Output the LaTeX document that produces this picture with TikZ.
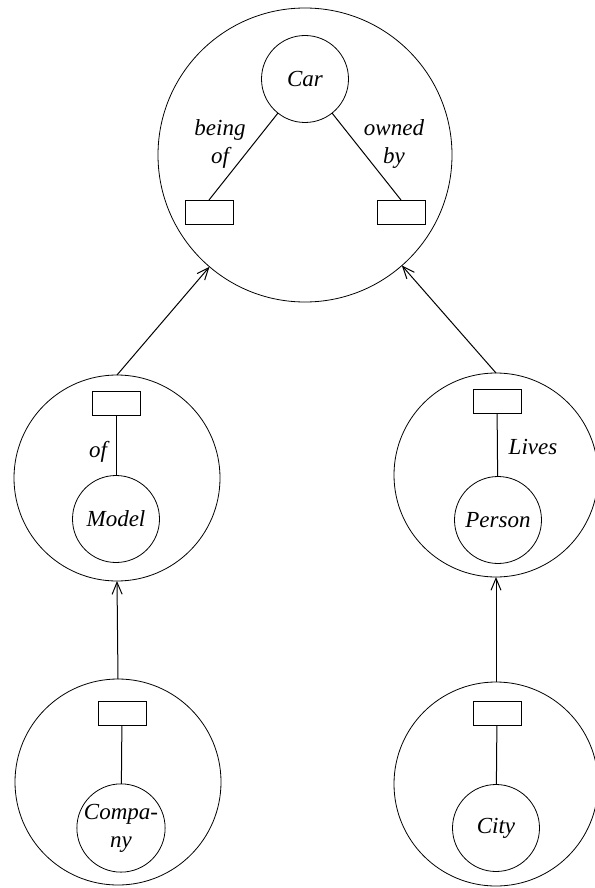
\documentclass[tikz,border=0pt]{standalone}
\usepackage{fontspec}
\setmainfont{Liberation Serif}
\usetikzlibrary{arrows.meta}

\begin{document}
\begin{tikzpicture}[
    x=0.5pt, y=-0.5pt,
    every node/.style={inner sep=0pt, outer sep=0pt},
    context/.style={circle, draw, minimum size=103pt},
    concept/.style={circle, draw, minimum size=43.5pt, font=\fontsize{11.5}{14}\selectfont\itshape, align=center},
    slot/.style={rectangle, draw, minimum width=24pt, minimum height=12pt},
    rel/.style={font=\fontsize{11.5}{14}\selectfont\itshape, align=center},
    link/.style={line width=0.5pt},
    arrow/.style={line width=0.5pt, -{Straight Barb[length=6pt,width=5pt]}}
]
    \useasboundingbox (0,0) rectangle (594,888);

    % Top context: the car and its two slots
    \node [context, minimum size=147pt] (carctx) at (305,155) {};
    \node [concept] (car) at (305,79) {Car};
    \node [slot] (beingslot) at (209,212) {};
    \node [slot] (ownedslot) at (401,212) {};
    \node [rel] (beingof) at (220,144) {being\\of};
    \node [rel] (ownedby) at (394,144) {owned\\by};

    % Middle contexts
    \node [context] (modelctx) at (117,478) {};
    \node [slot] (modelslot) at (116,403) {};
    \node [concept] (model) at (116,519) {Model};
    \node [rel] (of) at (98,452) {of};

    \node [context, minimum size=102pt] (personctx) at (496,475) {};
    \node [slot] (personslot) at (497,401) {};
    \node [concept] (person) at (498,520) {Person};
    \node [rel] (lives) at (533,447) {Lives};

    % Bottom contexts
    \node [context] (companyctx) at (118,782) {};
    \node [slot] (companyslot) at (122,713) {};
    \node [concept] (company) at (121,828) {Compa-\\ny};

    \node [context, minimum size=102pt] (cityctx) at (496,784) {};
    \node [slot] (cityslot) at (497,713) {};
    \node [concept] (city) at (496,828) {City};

    % Relations inside each context
    \draw [link] (car) -- (beingslot.north);
    \draw [link] (car) -- (ownedslot.north);
    \draw [link] (modelslot) -- (model);
    \draw [link] (personslot) -- (person);
    \draw [link] (companyslot) -- (company);
    \draw [link] (cityslot) -- (city);

    % Arrows between contexts
    \draw [arrow] (modelctx.north) -- (carctx);
    \draw [arrow] (personctx.north) -- (carctx);
    \draw [arrow] (companyctx.north) -- (modelctx.south);
    \draw [arrow] (cityctx.north) -- (personctx.south);
\end{tikzpicture}
\end{document}
